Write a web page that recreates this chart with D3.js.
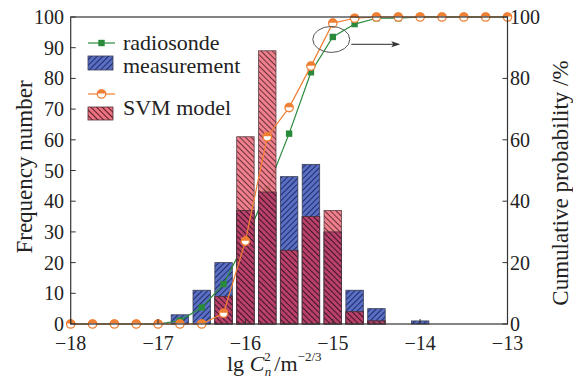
<!DOCTYPE html>
<html><head><meta charset="utf-8">
<script src="https://cdn.jsdelivr.net/npm/d3@7"></script>
<style>body{margin:0;background:#fff}svg{display:block}</style>
</head><body><svg id="c" width="573" height="380"></svg>
<script>
// ---- data ----
const binCenters = [-16.75,-16.5,-16.25,-16,-15.75,-15.5,-15.25,-15,-14.75,-14.5,-14.25,-14];
const radioFreq  = [3,11,20,37,43,48,52,30,11,5,0,1];
const svmFreq    = [0,0,9,61,89,24,35,37,4,1,0,0];
const cumX = [-18,-17.75,-17.5,-17.25,-17,-16.75,-16.5,-16.25,-16,-15.75,-15.5,-15.25,-15,-14.75,-14.5,-14.25,-14,-13.75,-13.5,-13.25,-13];
const cumRadio = [0,0,0,0,0,1.1,5.4,13,27,44,62,82,93.5,97.7,99.6,99.6,100,100,100,100,100];
const cumSVM   = [0,0,0,0,0,0,0,3.5,27,61,70.5,84,98,99.6,100,100,100,100,100,100,100];
const xTicks = [-18,-17,-16,-15,-14,-13];
const yLeftTicks = [0,10,20,30,40,50,60,70,80,90,100];
const yRightTicks = [0,20,40,60,80,100];
const legendLabels = ["radiosonde","measurement","SVM model"];

const svg = d3.select("#c").style("font-family","\"Liberation Serif\"");
const TXT = "#222";
const L=70.7,R=507.5,T=17,B=324;
const x = d3.scaleLinear().domain([-18,-13]).range([L,R]);
const yL = d3.scaleLinear().domain([0,100]).range([B,T]);
const yR = d3.scaleLinear().domain([0,100]).range([B,T]);
const halfW = 0.1;

const defs = svg.append("defs");
function hatch(id, bg, line, dir, w){
  const p = defs.append("pattern").attr("id",id).attr("patternUnits","userSpaceOnUse")
    .attr("width",4).attr("height",4).attr("patternTransform","rotate("+(dir>0?45:-45)+")");
  p.append("rect").attr("width",4).attr("height",4).attr("fill",bg);
  p.append("line").attr("x1",0.5).attr("y1",0).attr("x2",0.5).attr("y2",4).attr("stroke",line).attr("stroke-width",w);
}
hatch("hb","#5b70c4","#1f2c6a",1,1.1);
hatch("hr","#ee7380","#5a1a2a",-1,1.0);
hatch("hd","#c63e62","#3e0c1e",-1,1.0);

const orange="#ef7f33", green="#2a8a3c";

// blue bars
svg.append("g").selectAll("rect").data(binCenters.map((c,i)=>({c,v:radioFreq[i]})).filter(d=>d.v>0))
 .join("rect").attr("x",d=>x(d.c-halfW)).attr("width",d=>x(d.c+halfW)-x(d.c-halfW))
 .attr("y",d=>yL(d.v)).attr("height",d=>B-yL(d.v)).attr("fill","url(#hb)").attr("stroke","#3a3f55").attr("stroke-width",0.8);

// green line
const lineR = d3.line().x((d,i)=>x(cumX[i])).y(d=>yR(d));
svg.append("path").datum(cumRadio).attr("d",lineR).attr("fill","none").attr("stroke",green).attr("stroke-width",1.2);
svg.append("g").selectAll("rect").data(cumRadio).join("rect")
 .attr("x",(d,i)=>x(cumX[i])-3.2).attr("y",d=>yR(d)-3.2).attr("width",6.4).attr("height",6.4).attr("fill",green);

// red bars (light part + overlap)
const svmData = binCenters.map((c,i)=>({c,v:svmFreq[i],o:Math.min(svmFreq[i],radioFreq[i])})).filter(d=>d.v>0);
const rg = svg.append("g").attr("opacity",0.9);
rg.selectAll("rect.l").data(svmData).join("rect").attr("class","l")
 .attr("x",d=>x(d.c-halfW)).attr("width",d=>x(d.c+halfW)-x(d.c-halfW))
 .attr("y",d=>yL(d.v)).attr("height",d=>B-yL(d.v)).attr("fill","url(#hr)").attr("stroke","#4a3038").attr("stroke-width",0.8);
rg.selectAll("rect.o").data(svmData).join("rect").attr("class","o")
 .attr("x",d=>x(d.c-halfW)).attr("width",d=>x(d.c+halfW)-x(d.c-halfW))
 .attr("y",d=>yL(d.o)).attr("height",d=>B-yL(d.o)).attr("fill","url(#hd)").attr("stroke","#4a3038").attr("stroke-width",0.8);

// orange line
svg.append("path").datum(cumSVM).attr("d",lineR).attr("fill","none").attr("stroke",orange).attr("stroke-width",1.2);
function oMarker(g,cx,cy){
  g.append("circle").attr("cx",cx).attr("cy",cy).attr("r",4.2).attr("fill","#fff").attr("stroke",orange).attr("stroke-width",1.3);
  g.append("path").attr("d",`M${cx-4.2},${cy-0.4}A4.2,4.2 0 0 1 ${cx+4.2},${cy-0.4}Z`).attr("fill",orange);
}
const om = svg.append("g");
cumSVM.forEach((d,i)=>oMarker(om,x(cumX[i]),yR(d)));

// frame
svg.append("rect").attr("x",L).attr("y",T).attr("width",R-L).attr("height",B-T).attr("fill","none").attr("stroke","#333").attr("stroke-width",1.2);

// ticks
const tg = svg.append("g").attr("stroke","#333").attr("stroke-width",1);
xTicks.forEach(t=>tg.append("line").attr("x1",x(t)).attr("x2",x(t)).attr("y1",B).attr("y2",B-5));
yLeftTicks.forEach(t=>tg.append("line").attr("x1",L).attr("x2",L+5).attr("y1",yL(t)).attr("y2",yL(t)));
yRightTicks.forEach(t=>tg.append("line").attr("x1",R).attr("x2",R-5).attr("y1",yR(t)).attr("y2",yR(t)));

const fmt = t => (t<0?"\u2212":"")+Math.abs(t);
svg.append("g").attr("fill",TXT).selectAll("text").data(xTicks).join("text").attr("x",d=>x(d)).attr("y",350)
 .attr("text-anchor","middle").attr("font-size",20).text(fmt);
svg.append("g").attr("fill",TXT).selectAll("text").data(yLeftTicks).join("text").attr("x",64).attr("y",d=>yL(d)+7)
 .attr("text-anchor","end").attr("font-size",20).text(d=>d);
svg.append("g").attr("fill",TXT).selectAll("text").data(yRightTicks).join("text").attr("x",510).attr("y",d=>yR(d)+7)
 .attr("text-anchor","start").attr("font-size",20).text(d=>d);

// axis titles
svg.append("text").attr("fill",TXT).attr("transform","translate(32,167) rotate(-90)").attr("text-anchor","middle").attr("font-size",23).text("Frequency number");
svg.append("text").attr("fill",TXT).attr("transform","translate(568,183) rotate(-90)").attr("text-anchor","middle").attr("font-size",23).text("Cumulative probability /%");
const xl = svg.append("text").attr("fill",TXT).attr("x",227).attr("y",371).attr("font-size",22);
xl.append("tspan").text("lg ");
xl.append("tspan").attr("font-style","italic").text("C");
xl.append("tspan").attr("font-size",13).attr("dy",-10).text("2");
xl.append("tspan").attr("font-size",13).attr("font-style","italic").attr("dx",-6).attr("dy",15).text("n");
xl.append("tspan").attr("dy",-5).attr("dx",3).text("/m");
xl.append("tspan").attr("font-size",13).attr("dy",-10).text("\u22122/3");

// legend
const lg = svg.append("g");
lg.append("line").attr("x1",88).attr("x2",115).attr("y1",43).attr("y2",43).attr("stroke",green).attr("stroke-width",1.2);
lg.append("rect").attr("x",98.3).attr("y",39.8).attr("width",6.4).attr("height",6.4).attr("fill",green);
lg.append("rect").attr("x",88).attr("y",56).attr("width",25).attr("height",14).attr("fill","url(#hb)").attr("stroke","#3a3f55").attr("stroke-width",0.8);
lg.append("line").attr("x1",88).attr("x2",115).attr("y1",94).attr("y2",94).attr("stroke",orange).attr("stroke-width",1.2);
oMarker(lg,101.5,94);
lg.append("rect").attr("x",88).attr("y",107).attr("width",25).attr("height",13).attr("fill","url(#hr)").attr("stroke","#4a3038").attr("stroke-width",0.8);
lg.append("text").attr("fill",TXT).attr("x",123).attr("y",50).attr("font-size",22).text(legendLabels[0]);
lg.append("text").attr("fill",TXT).attr("x",123).attr("y",73).attr("font-size",22).text(legendLabels[1]);
lg.append("text").attr("fill",TXT).attr("x",123).attr("y",115).attr("font-size",22).text(legendLabels[2]);

// annotation ellipse + arrow
svg.append("ellipse").attr("cx",x(-15)-1.5).attr("cy",yR(93.5)+2.5).attr("rx",18.5).attr("ry",13)
 .attr("fill","none").attr("stroke","#555").attr("stroke-width",1);
svg.append("line").attr("x1",x(-15)+18.5).attr("x2",x(-14.25)-3).attr("y1",44.3).attr("y2",44.3).attr("stroke","#555").attr("stroke-width",1.2);
svg.append("path").attr("d",`M${x(-14.25)+2},44.3 l-9,-3 l2,3 l-2,3 Z`).attr("fill","#333");
</script></body></html>
